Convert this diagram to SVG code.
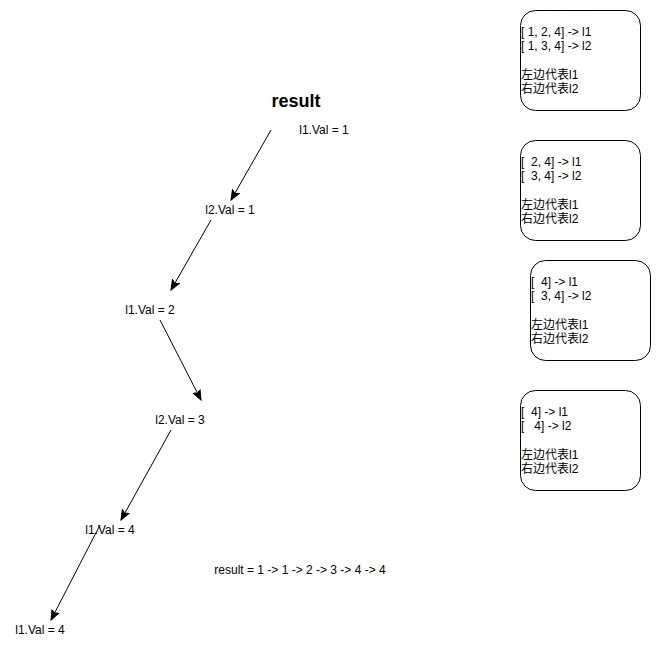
<svg xmlns="http://www.w3.org/2000/svg" width="661" height="651" viewBox="0 0 661 651">
<defs>
<marker id="arr" markerWidth="12" markerHeight="12" refX="10" refY="5" orient="auto" markerUnits="userSpaceOnUse" viewBox="0 0 12 10">
<path d="M0,1 L10,5 L0,9 L2.5,5 Z" fill="#000" stroke="#000" stroke-width="1"/>
</marker>
</defs>
<style>
text{font-family:"Liberation Sans","Noto Sans CJK SC",sans-serif;font-size:12px;fill:#000}
.c{text-anchor:middle}
.t{font-weight:bold;font-size:18px}
.box{fill:#fff;stroke:#000;stroke-width:1}
.e{stroke:#000;stroke-width:1;fill:none;marker-end:url(#arr)}
</style>
<rect width="661" height="651" fill="#fff"/>
<g id="title"><text class="c t" x="296" y="107">result</text></g>
<g id="n1"><text class="c" x="324" y="134">l1.Val = 1</text></g>
<g id="n2"><text class="c" x="230" y="214">l2.Val = 1</text></g>
<g id="n3"><text class="c" x="150" y="314">l1.Val = 2</text></g>
<g id="n4"><text class="c" x="180" y="424">l2.Val = 3</text></g>
<g id="n5"><text class="c" x="110" y="534">l1.Val = 4</text></g>
<g id="n6"><text class="c" x="40" y="634">l1.Val = 4</text></g>
<g id="res"><text class="c" x="300" y="574">result = 1 -&gt; 1 -&gt; 2 -&gt; 3 -&gt; 4 -&gt; 4</text></g>
<g id="connectors">
<line class="e" x1="271" y1="130" x2="231" y2="200"/>
<line class="e" x1="211" y1="220" x2="171" y2="290"/>
<line class="e" x1="160" y1="320" x2="201" y2="400"/>
<line class="e" x1="171" y1="430" x2="121" y2="520"/>
<line class="e" x1="100" y1="525" x2="51" y2="620"/>
</g>
<g id="box1">
<rect class="box" x="520.5" y="10.5" width="120" height="100" rx="15" ry="15"/>
<text xml:space="preserve" x="521" y="36">[ 1, 2, 4] -&gt; l1</text>
<text xml:space="preserve" x="521" y="50">[ 1, 3, 4] -&gt; l2</text>
<text x="521" y="79">左边代表l1</text>
<text x="521" y="93">右边代表l2</text>
</g>
<g id="box2">
<rect class="box" x="520.5" y="140.5" width="120" height="100" rx="15" ry="15"/>
<text xml:space="preserve" x="521" y="166">[  2, 4] -&gt; l1</text>
<text xml:space="preserve" x="521" y="180">[  3, 4] -&gt; l2</text>
<text x="521" y="209">左边代表l1</text>
<text x="521" y="223">右边代表l2</text>
</g>
<g id="box3">
<rect class="box" x="530.5" y="260.5" width="120" height="100" rx="15" ry="15"/>
<text xml:space="preserve" x="531" y="286">[  4] -&gt; l1</text>
<text xml:space="preserve" x="531" y="300">[  3, 4] -&gt; l2</text>
<text x="531" y="329">左边代表l1</text>
<text x="531" y="343">右边代表l2</text>
</g>
<g id="box4">
<rect class="box" x="520.5" y="390.5" width="120" height="100" rx="15" ry="15"/>
<text xml:space="preserve" x="521" y="416">[  4] -&gt; l1</text>
<text xml:space="preserve" x="521" y="430">[   4] -&gt; l2</text>
<text x="521" y="459">左边代表l1</text>
<text x="521" y="473">右边代表l2</text>
</g>
</svg>
